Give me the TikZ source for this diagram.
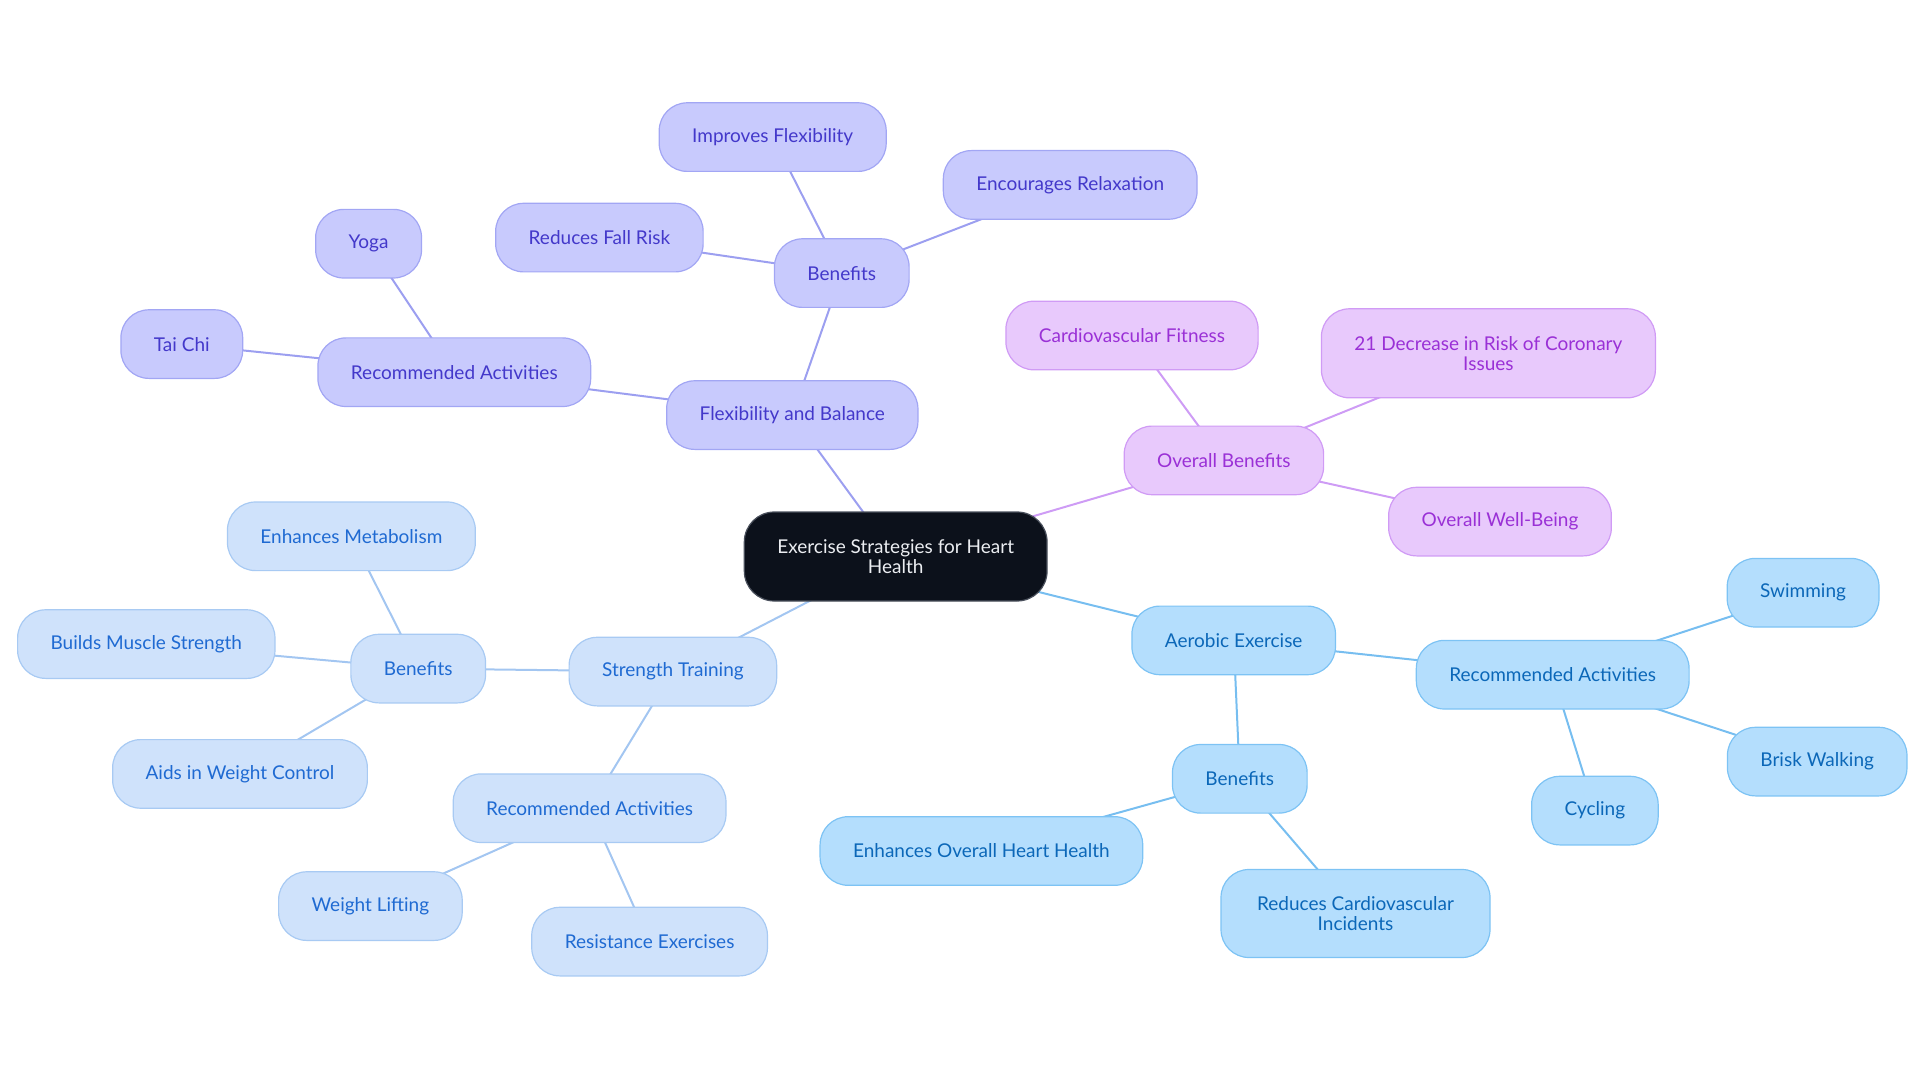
\documentclass[tikz,border=0pt]{standalone}
\usepackage{fontspec}
\setmainfont{Lato}
\usepackage{tikz}
\usetikzlibrary{backgrounds}
\definecolor{RootFill}{HTML}{0C111B}
\definecolor{RootLine}{HTML}{4A505C}
\definecolor{RootText}{HTML}{ECEEF2}
\definecolor{Indigo}{HTML}{4338CA}
\definecolor{IndigoSoft}{HTML}{C8CAFD}
\definecolor{IndigoLine}{HTML}{A2A6F4}
\definecolor{IndigoLink}{HTML}{9C9FF0}
\definecolor{Purple}{HTML}{9A30D6}
\definecolor{PurpleSoft}{HTML}{E8C9FC}
\definecolor{PurpleLine}{HTML}{D09BF5}
\definecolor{PurpleLink}{HTML}{CE9CF5}
\definecolor{Blue}{HTML}{1F6AD2}
\definecolor{BlueSoft}{HTML}{CFE2FB}
\definecolor{BlueLine}{HTML}{A8CAF3}
\definecolor{BlueLink}{HTML}{A3C6F1}
\definecolor{Sky}{HTML}{0B67B8}
\definecolor{SkySoft}{HTML}{B4DEFD}
\definecolor{SkyLine}{HTML}{7DC3F4}
\definecolor{SkyLink}{HTML}{77BEF0}
\tikzset{
  mind/.style={draw,line width=1.2pt,rounded corners=28pt,minimum height=68.6pt,inner xsep=33pt,inner ysep=4pt,align=center,font=\fontsize{19}{20}\selectfont},
  mindroot/.style={mind,draw=RootLine,fill=RootFill,text=RootText,rounded corners=30pt,minimum height=89pt},
  mindindigo/.style={mind,draw=IndigoLine,fill=IndigoSoft,text=Indigo},
  mindpurple/.style={mind,draw=PurpleLine,fill=PurpleSoft,text=Purple},
  mindblue/.style={mind,draw=BlueLine,fill=BlueSoft,text=Blue},
  mindsky/.style={mind,draw=SkyLine,fill=SkySoft,text=Sky},
  link/.style={line width=2pt},
  linkindigo/.style={link,draw=IndigoLink},
  linkpurple/.style={link,draw=PurpleLink},
  linkblue/.style={link,draw=BlueLink},
  linksky/.style={link,draw=SkyLink}
}
\begin{document}
\begin{tikzpicture}[x=1pt,y=-1pt]
\useasboundingbox (0,0) rectangle (1920,1083);
% root
\node[mindroot] (root) at (895.7,556.5) {Exercise Strategies for Heart\\Health};
% flexibility and balance
\node[mindindigo] (flex) at (792.3,415.1) {Flexibility and Balance};
\node[mindindigo] (flexben) at (841.8,273.1) {Benefits};
\node[mindindigo] (flexibility) at (772.7,137.1) {Improves Flexibility};
\node[mindindigo] (relax) at (1070.2,184.9) {Encourages Relaxation};
\node[mindindigo] (fallrisk) at (599.4,237.6) {Reduces Fall Risk};
\node[mindindigo] (flexact) at (454.3,372.2) {Recommended Activities};
\node[mindindigo] (yoga) at (368.6,243.7) {Yoga};
\node[mindindigo] (taichi) at (181.8,344.1) {Tai Chi};
% overall benefits
\node[mindpurple] (overall) at (1223.9,460.4) {Overall Benefits};
\node[mindpurple] (fitness) at (1132.0,335.5) {Cardiovascular Fitness};
\node[mindpurple,minimum height=89pt,minimum width=327pt] (coronary) at (1488.4,353.3) {21 Decrease in Risk of Coronary\\Issues};
\node[mindpurple] (wellbeing) at (1500.0,521.6) {Overall Well-Being};
% aerobic exercise
\node[mindsky] (aerobic) at (1233.7,640.4) {Aerobic Exercise};
\node[mindsky] (aeroact) at (1552.7,674.7) {Recommended Activities};
\node[mindsky] (swimming) at (1803.1,592.7) {Swimming};
\node[mindsky] (walking) at (1817.2,761.6) {Brisk Walking};
\node[mindsky] (cycling) at (1594.9,810.6) {Cycling};
\node[mindsky] (aeroben) at (1239.8,778.8) {Benefits};
\node[mindsky] (hearthealth) at (981.4,851.0) {Enhances Overall Heart Health};
\node[mindsky,minimum height=88pt,minimum width=269pt] (incidents) at (1355.5,913.5) {Reduces Cardiovascular\\Incidents};
% strength training
\node[mindblue] (strength) at (672.9,671.6) {Strength Training};
\node[mindblue] (strben) at (418.2,668.6) {Benefits};
\node[mindblue] (metabolism) at (351.4,536.3) {Enhances Metabolism};
\node[mindblue] (muscle) at (146.3,644.1) {Builds Muscle Strength};
\node[mindblue] (weight) at (240.0,773.9) {Aids in Weight Control};
\node[mindblue] (stract) at (589.6,808.2) {Recommended Activities};
\node[mindblue] (lifting) at (370.4,906.1) {Weight Lifting};
\node[mindblue] (resistance) at (649.6,941.6) {Resistance Exercises};
\begin{scope}[on background layer]
\draw[linkindigo] (root.center)--(flex.center);
\draw[linkpurple] (root.center)--(overall.center);
\draw[linksky] (root.center)--(aerobic.center);
\draw[linkblue] (root.center)--(strength.center);
\foreach \a/\b in {flex/flexben,flex/flexact,flexben/flexibility,flexben/relax,flexben/fallrisk,flexact/yoga,flexact/taichi}
  \draw[linkindigo] (\a.center)--(\b.center);
\foreach \a/\b in {overall/fitness,overall/coronary,overall/wellbeing}
  \draw[linkpurple] (\a.center)--(\b.center);
\foreach \a/\b in {aerobic/aeroact,aerobic/aeroben,aeroact/swimming,aeroact/walking,aeroact/cycling,aeroben/hearthealth,aeroben/incidents}
  \draw[linksky] (\a.center)--(\b.center);
\foreach \a/\b in {strength/strben,strength/stract,strben/metabolism,strben/muscle,strben/weight,stract/lifting,stract/resistance}
  \draw[linkblue] (\a.center)--(\b.center);
\end{scope}
\end{tikzpicture}
\end{document}
